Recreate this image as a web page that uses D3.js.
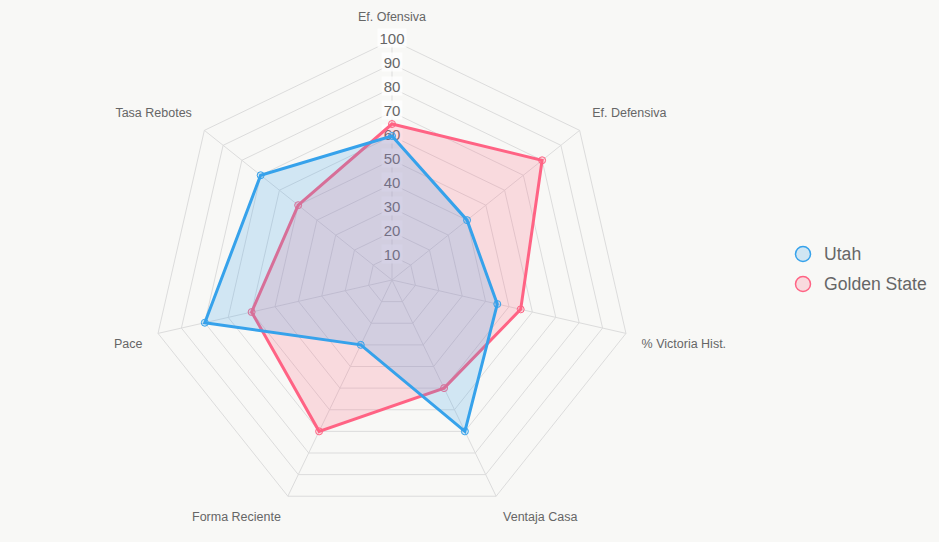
<!DOCTYPE html>
<html>
<head>
<meta charset="utf-8">
<style>
  body { margin: 0; background: #f8f8f6; }
  .chartContainer { width: 939px; height: 542px; }
  text { font-family: "Liberation Sans", Arial, Helvetica, sans-serif; }
</style>
</head>
<body>
<div class="chartContainer"></div>

<script src="https://d3js.org/d3.v7.min.js"></script>
<script>
    // datos
    const categories = ['Ef. Ofensiva', 'Ef. Defensiva', '% Victoria Hist.', 'Ventaja Casa', 'Forma Reciente', 'Pace', 'Tasa Rebotes'];
    const utah = [60, 40, 45, 70, 30, 80, 70];
    const goldenState = [65, 80, 55, 50, 70, 60, 50];
    const tickValues = [10, 20, 30, 40, 50, 60, 70, 80, 90, 100];

    const series = [
      {name: 'Utah', values: utah, color: 'rgb(54,162,235)', fill: 'rgba(54,162,235,0.2)'},
      {name: 'Golden State', values: goldenState, color: 'rgb(255,99,132)', fill: 'rgba(255,99,132,0.2)'}
    ];

    const width = 939, height = 542;
    const cx = 392, cy = 280, R = 240;

    const svg = d3.select('.chartContainer')
                  .append('svg')
                  .attr('width', width)
                  .attr('height', height);

    const r = d3.scaleLinear().domain([0, 100]).range([0, R]);
    const angle = d3.scalePoint().domain(categories).range([0, 2 * Math.PI * (categories.length - 1) / categories.length]);

    const g = svg.append('g').attr('transform', `translate(${cx},${cy})`);

    const pos = (cat, v) => {
      const a = angle(cat);
      return [r(v) * Math.sin(a), -r(v) * Math.cos(a)];
    };

    // rejilla
    tickValues.forEach(t => {
      g.append('polygon')
       .attr('points', categories.map(c => pos(c, t).join(',')).join(' '))
       .attr('fill', 'none')
       .attr('stroke', '#dcdcdc')
       .attr('stroke-width', 1);
    });
    categories.forEach(c => {
      const p = pos(c, 100);
      g.append('line').attr('x1', 0).attr('y1', 0).attr('x2', p[0]).attr('y2', p[1])
       .attr('stroke', '#dcdcdc').attr('stroke-width', 1);
    });

    // ticks
    const ticks = g.append('g');
    tickValues.forEach(t => {
      const y = -r(t) - 2;
      const txt = ticks.append('text')
        .attr('x', 0).attr('y', y)
        .attr('text-anchor', 'middle')
        .attr('dominant-baseline', 'central')
        .style('font-size', '15px')
        .style('fill', '#666')
        .text(t);
      const bb = txt.node().getBBox();
      ticks.insert('rect', 'text')
        .attr('x', bb.x - 2).attr('y', y - 9.5)
        .attr('width', bb.width + 4).attr('height', 19)
        .attr('fill', 'rgba(255,255,255,0.75)');
    });

    // etiquetas
    categories.forEach(c => {
      const a = angle(c);
      const p = [(R + 16) * Math.sin(a), -(R + 16) * Math.cos(a)];
      const s = Math.sin(a), co = Math.cos(a);
      const anchor = Math.abs(s) < 0.05 ? 'middle' : (s > 0 ? 'start' : 'end');
      const base = co > 0.05 ? 'text-after-edge' : (co < -0.05 ? 'hanging' : 'central');
      g.append('text')
       .attr('x', p[0]).attr('y', p[1] + (base === 'hanging' ? 2 : 0))
       .attr('text-anchor', anchor)
       .attr('dominant-baseline', base)
       .style('font-size', '12.5px')
       .style('fill', '#666')
       .text(c);
    });

    // series (la primera queda encima)
    const line = d3.lineRadial().angle((d, i) => angle(categories[i])).radius(d => r(d)).curve(d3.curveLinearClosed);
    series.slice().reverse().forEach(s => {
      g.append('path')
       .attr('d', line(s.values))
       .attr('fill', s.fill)
       .attr('stroke', s.color)
       .attr('stroke-width', 3)
       .attr('stroke-linejoin', 'miter');
      g.append('g').selectAll('circle')
       .data(s.values)
       .enter()
       .append('circle')
       .attr('cx', (d, i) => pos(categories[i], d)[0])
       .attr('cy', (d, i) => pos(categories[i], d)[1])
       .attr('r', 3.5)
       .attr('fill', s.fill)
       .attr('stroke', s.color)
       .attr('stroke-width', 1);
    });

    // leyenda
    const legend = svg.append('g');
    series.forEach((s, i) => {
      const y = 254 + i * 30;
      legend.append('circle').attr('cx', 803).attr('cy', y).attr('r', 7.5)
        .attr('fill', s.fill).attr('stroke', s.color).attr('stroke-width', 1.5);
      legend.append('text').attr('x', 824).attr('y', y)
        .attr('dominant-baseline', 'central')
        .style('font-size', '17.6px').style('fill', '#666')
        .text(s.name);
    });
</script>
</body>
</html>
